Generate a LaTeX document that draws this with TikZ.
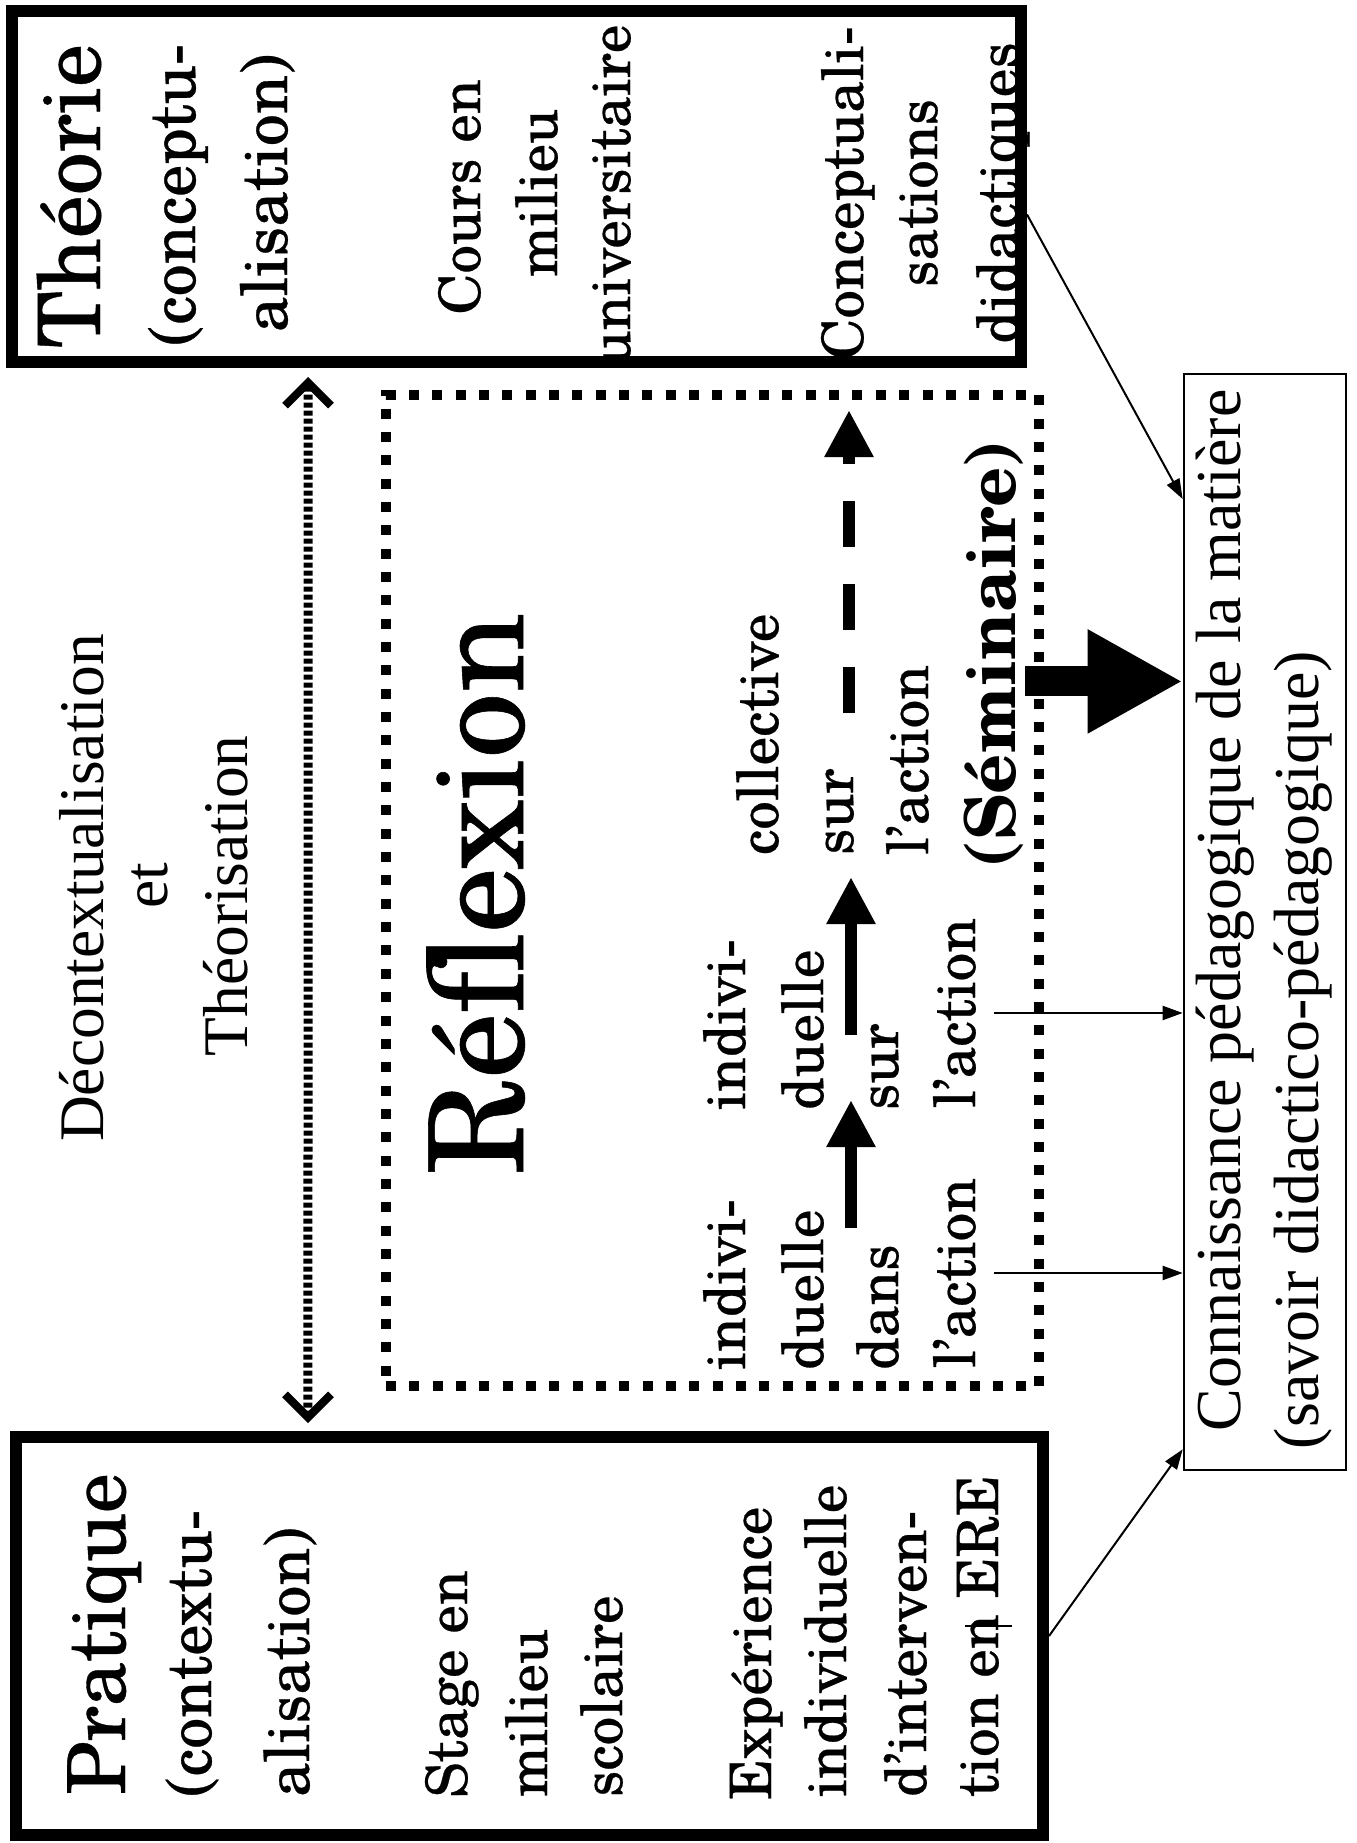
\documentclass[tikz,border=0pt]{standalone}
\usepackage{fontspec}
\usetikzlibrary{arrows.meta,fit,calc}
\newfontfamily\cent{texgyreschola-regular.otf}[FakeBold=0.45]
\newfontfamily\centb{texgyreschola-bold.otf}
\newfontfamily\tms{Liberation Serif}
\newcommand\fsz[1]{\fontsize{#1pt}{#1pt}\selectfont}
\begin{document}
\begin{tikzpicture}[x=0.5pt,y=-0.5pt,
  txt/.style={rotate=90,inner sep=0pt,outer sep=0pt},
  bodytxt/.style={txt,font=\cent\fsz{28.5}},
  titletxt/.style={txt,font=\cent\fsz{43}},
  subtxt/.style={txt,font=\cent\fsz{32}},
  tmstxt/.style={txt,font=\tms\fsz{31.75}},
  thickbox/.style={draw,line width=6pt,inner sep=0pt},
  dotbox/.style={draw,line width=5pt,dash pattern=on 5pt off 6.67pt,inner sep=0pt},
  thinbox/.style={draw,line width=1.3pt,inner sep=0pt},
  thinarr/.style={line width=1pt,-{Triangle[length=10pt,width=7pt]}},
  fatarr/.style={line width=6pt,-{Triangle[length=23.5pt,width=23pt]}},
  fatdash/.style={fatarr,dash pattern=on 23pt off 18.5pt},
  bigarr/.style={line width=15pt,-{Triangle[length=47.5pt,width=48.5pt]}},
  dblarr/.style={line width=4.5pt,dash pattern=on 2.5pt off 1.5pt,
    {Straight Barb[length=11.5pt,width=23pt,line width=4pt]}-{Straight Barb[length=11.5pt,width=23pt,line width=4pt]}},
]
\fill[white] (0,0) rectangle (1356,1843);
\useasboundingbox (0,0) rectangle (1356,1843);

% boxes
\node[fit={(12,11) (1021,362)},thickbox] (thbox) {};
\node[fit={(16,1437) (1043,1835)},thickbox] (prbox) {};
\node[fit={(386,395) (1039,1386)},dotbox] (refl) {};
\node[fit={(1184,374) (1346,1470)},thinbox] (conn) {};

% Theorie
\node[titletxt,anchor=base] (th1) at (100,196) {Théorie};
\node[subtxt,anchor=base] (th2) at (195,195) {(conceptu-};
\node[subtxt,anchor=base] (th3) at (287,193) {alisation)};
\node[bodytxt,anchor=base] (th4) at (480,197) {Cours en};
\node[bodytxt,anchor=base] (th5) at (557,193) {milieu};
\node[bodytxt,anchor=base] (th6) at (630,195) {universitaire};
\node[bodytxt,anchor=base] (th7) at (863,193) {Conceptuali-};
\node[bodytxt,anchor=base] (th8) at (937,193) {sations};
\node[bodytxt,anchor=base] (th9) at (1018,193) {didactiques};

% Pratique
\node[txt,font=\cent\fsz{40},anchor=base west] (pr1) at (125,1795) {Pratique};
\node[txt,font=\cent\fsz{31},anchor=base west] (pr2) at (211,1797) {(contextu-};
\node[txt,font=\cent\fsz{31},anchor=base west] (pr3) at (309,1797) {alisation)};
\node[bodytxt,anchor=base west] (pr4) at (467,1798) {Stage en};
\node[bodytxt,anchor=base west] (pr5) at (547,1797) {milieu};
\node[bodytxt,anchor=base west] (pr6) at (622,1797) {scolaire};
\node[bodytxt,anchor=base west] (pr7) at (771,1800) {Expérience};
\node[bodytxt,anchor=base west] (pr8) at (846,1797) {individuelle};
\node[bodytxt,anchor=base west] (pr9) at (926,1797) {d’interven-};
\node[bodytxt,anchor=base west] (pr10) at (998,1797) {tion en ERE};

% Decontextualisation
\node[tmstxt,anchor=base] (d1) at (103,888) {Décontextualisation};
\node[tmstxt,anchor=base] (d2) at (167,886) {et};
\node[tmstxt,anchor=base] (d3) at (247,896) {Théorisation};

% Reflexion
\node[txt,font=\cent\fsz{65.5},anchor=base west] (rx) at (523,1175) {Réflexion};
\node[bodytxt,anchor=base west] (c1a) at (745,1370) {indivi-};
\node[bodytxt,anchor=base west] (c1b) at (823,1370) {duelle};
\node[bodytxt,anchor=base west] (c1c) at (898,1370) {dans};
\node[bodytxt,anchor=base west] (c1d) at (975,1368) {l’action};
\node[bodytxt,anchor=base west] (c2a) at (745,1110) {indivi-};
\node[bodytxt,anchor=base west] (c2b) at (823,1110) {duelle};
\node[bodytxt,anchor=base west] (c2c) at (898,1110) {sur};
\node[bodytxt,anchor=base west] (c2d) at (975,1108) {l’action};
\node[bodytxt,anchor=base west] (c3a) at (778,855) {collective};
\node[bodytxt,anchor=base west] (c3b) at (853,855) {sur};
\node[bodytxt,anchor=base west] (c3c) at (928,855) {l’action};
\node[txt,font=\centb\fsz{35},anchor=base west] (sem) at (1015,868) {(Séminaire)};

% inline arrows
\coordinate (a1) at (851,1228);
\coordinate (a2) at (851,1100);
\coordinate (b1) at (851,1035);
\coordinate (b2) at (851,877);
\coordinate (e1) at (849,713);
\coordinate (e2) at (849,410);
\draw[fatarr] (a1) -- (a2);
\draw[fatarr] (b1) -- (b2);
\draw[fatdash] (e1) -- (e2);

% big arrow
\coordinate (bigtip) at ($(conn.north west)!0.281!(conn.south west)$);
\draw[bigarr] ($(refl.east |- bigtip)+(-19,0)$) -- (bigtip);

% thin arrows
\draw[thinarr] ($(thbox.east)+(0,28)$) -- ($(conn.north west)!0.115!(conn.south west)$);
\draw[thinarr] ([xshift=9pt]c2d.south) -- (c2d.south -| conn.west);
\draw[thinarr] ([xshift=9pt]c1d.south) -- (c1d.south -| conn.west);
\draw[thinarr] (prbox.east) -- ($(conn.north west)!0.98!(conn.south west)$);
\draw[line width=1pt] (965,1626) -- (1012,1626);

% double dotted arrow
\draw[dblarr] ($(thbox.south west)!0.2958!(thbox.south east)+(0,9)$) -- ($(prbox.north west)!0.2868!(prbox.north east)+(0,-8)$);

% Connaissance
\node[tmstxt,font=\tms\fsz{32},anchor=base west] (k1) at (1240,1431) {Connaissance pédagogique de la matière};
\node[tmstxt,font=\tms\fsz{32},anchor=base west] (k2) at (1318,1449) {(savoir didactico-pédagogique)};
\end{tikzpicture}
\end{document}
